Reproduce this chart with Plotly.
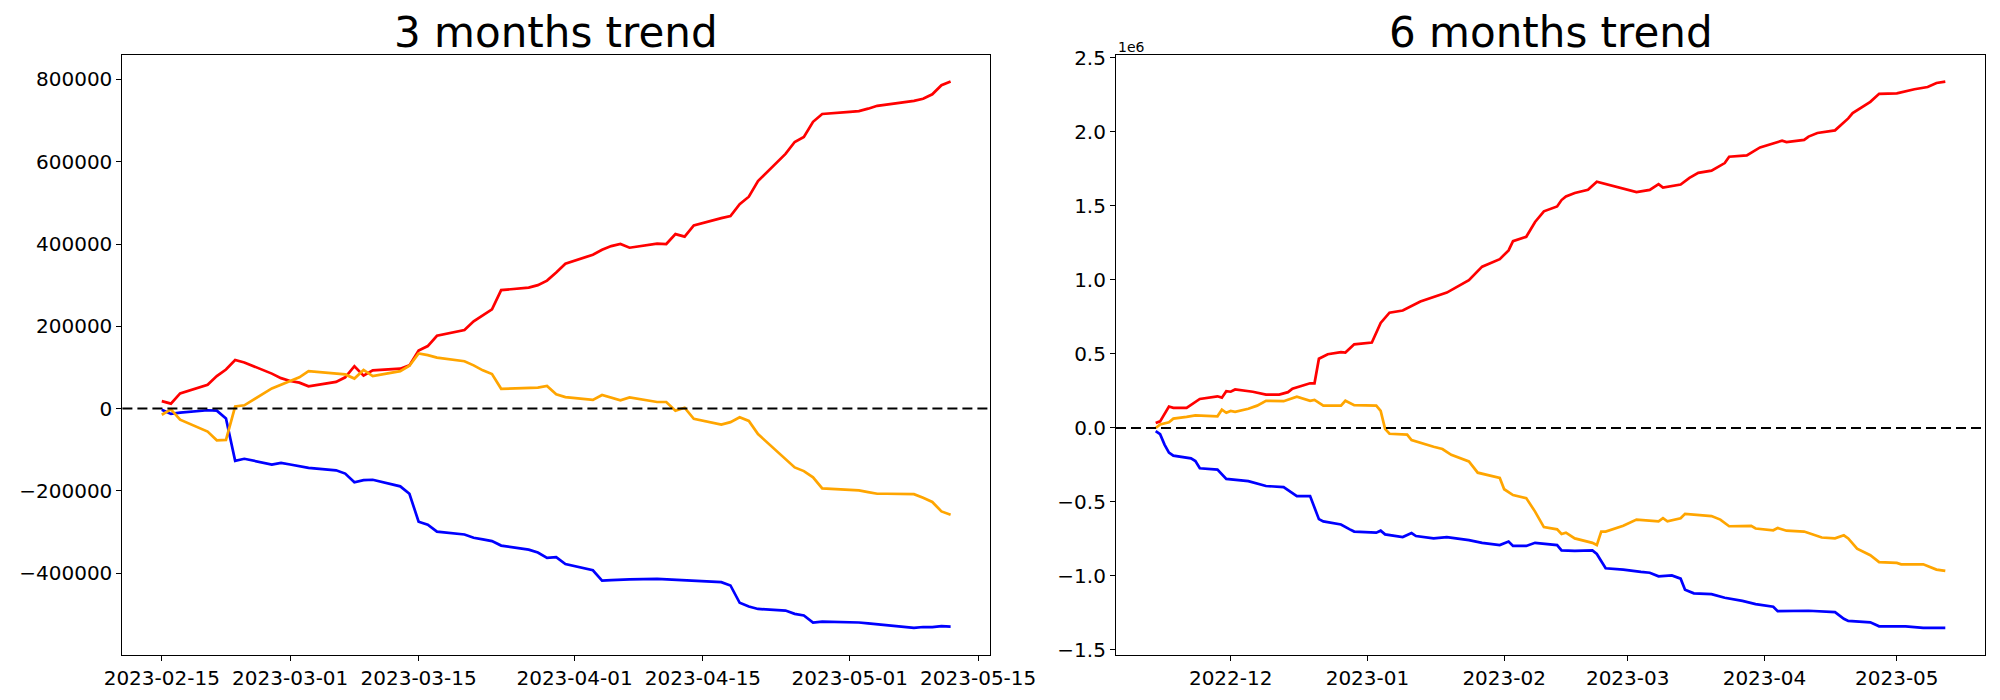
import pandas as pd
import plotly.graph_objects as go

# ---------------- 3 months data (business days) ----------------
dates_3m = pd.bdate_range("2023-02-15", "2023-05-12")

red_3m = [18000, 12000, 37000,
          58000, 79000, 95000, 118000, 112000,
          85000, 74000, 67000, 63000, 54000,
          65000, 76000, 103000, 80000, 93000,
          97000, 105000, 141000, 152000, 177000,
          191000, 212000, 227000, 241000, 288000,
          294000, 300000, 311000, 331000, 352000,
          374000, 386000, 395000, 400000, 391000,
          401000, 400000, 424000, 418000, 445000,
          463000, 468000, 497000, 515000, 553000,
          619000, 648000, 660000, 697000, 716000,
          721000, 723000, 729000, 736000, 739000,
          748000, 753000, 764000, 786000, 795000]

blue_3m = [-3000, -13000, -10000,
           -4000, -5000, -24000, -127000, -122000,
           -136000, -132000, -136000, -140000, -144000,
           -150000, -158000, -179000, -174000, -173000,
           -189000, -207000, -275000, -282000, -299000,
           -306000, -314000, -318000, -322000, -333000,
           -343000, -350000, -363000, -361000, -378000,
           -393000, -418000, -417000, -416000, -415000,
           -414000, -415000, -417000, -418000, -419000,
           -422000, -430000, -472000, -481000, -487000,
           -491000, -499000, -503000, -520000, -518000,
           -519000, -520000, -522000, -524000, -526000,
           -533000, -531000, -531000, -529000, -530000]

orange_3m = [-15000, -2000, -27000,
             -56000, -77000, -76000, 5000, 8000,
             49000, 58000, 68000, 76000, 91000,
             84000, 83000, 73000, 94000, 79000,
             91000, 104000, 134000, 130000, 124000,
             115000, 105000, 93000, 84000, 48000,
             49000, 51000, 55000, 35000, 28000,
             21000, 33000, 26000, 20000, 27000,
             16000, 16000, -5000, 2000, -25000,
             -39000, -33000, -21000, -30000, -62000,
             -123000, -143000, -152000, -167000, -194000,
             -198000, -199000, -203000, -207000, -207000,
             -208000, -217000, -227000, -250000, -258000]

# ---------------- 6 months data (values in units of 1e6) ----------------
red_6m_dates = ["2022-11-14", "2022-11-15", "2022-11-17", "2022-11-18", "2022-11-21", "2022-11-22",
                "2022-11-24", "2022-11-28", "2022-11-29", "2022-11-30", "2022-12-01", "2022-12-02",
                "2022-12-06", "2022-12-09", "2022-12-12", "2022-12-14", "2022-12-15", "2022-12-19",
                "2022-12-20", "2022-12-21", "2022-12-23", "2022-12-26", "2022-12-27", "2022-12-29",
                "2023-01-02", "2023-01-04", "2023-01-06", "2023-01-09", "2023-01-10", "2023-01-13",
                "2023-01-19", "2023-01-24", "2023-01-27", "2023-01-31", "2023-02-02", "2023-02-03",
                "2023-02-06", "2023-02-08", "2023-02-10", "2023-02-13", "2023-02-14", "2023-02-15",
                "2023-02-17", "2023-02-20", "2023-02-22", "2023-02-27", "2023-03-03", "2023-03-06",
                "2023-03-08", "2023-03-09", "2023-03-13", "2023-03-15", "2023-03-17", "2023-03-20",
                "2023-03-23", "2023-03-24", "2023-03-28", "2023-03-31", "2023-04-05", "2023-04-06",
                "2023-04-10", "2023-04-11", "2023-04-13", "2023-04-17", "2023-04-20", "2023-04-21",
                "2023-04-25", "2023-04-27", "2023-05-01", "2023-05-05", "2023-05-08", "2023-05-10",
                "2023-05-12"]
red_6m = [0.033, 0.045, 0.145, 0.136, 0.136, 0.154,
          0.196, 0.214, 0.205, 0.248, 0.245, 0.260,
          0.245, 0.226, 0.226, 0.242, 0.266, 0.302,
          0.302, 0.468, 0.498, 0.513, 0.510, 0.565,
          0.577, 0.710, 0.779, 0.794, 0.810, 0.855,
          0.915, 0.999, 1.090, 1.141, 1.200, 1.262,
          1.292, 1.392, 1.464, 1.497, 1.540, 1.564,
          1.588, 1.609, 1.664, 1.624, 1.594, 1.609,
          1.648, 1.624, 1.645, 1.690, 1.724, 1.739,
          1.790, 1.833, 1.842, 1.896, 1.941, 1.932,
          1.947, 1.969, 1.993, 2.011, 2.092, 2.128,
          2.204, 2.258, 2.261, 2.289, 2.304, 2.331,
          2.340]

blue_6m_dates = ["2022-11-14", "2022-11-15", "2022-11-16", "2022-11-17", "2022-11-18", "2022-11-22",
                 "2022-11-23", "2022-11-24", "2022-11-28", "2022-11-30", "2022-12-05", "2022-12-07",
                 "2022-12-09", "2022-12-13", "2022-12-14", "2022-12-16", "2022-12-19", "2022-12-21",
                 "2022-12-22", "2022-12-26", "2022-12-28", "2022-12-29", "2023-01-03", "2023-01-04",
                 "2023-01-05", "2023-01-09", "2023-01-11", "2023-01-12", "2023-01-16", "2023-01-19",
                 "2023-01-24", "2023-01-27", "2023-01-31", "2023-02-02", "2023-02-03", "2023-02-06",
                 "2023-02-08", "2023-02-13", "2023-02-14", "2023-02-17", "2023-02-21", "2023-02-22",
                 "2023-02-24", "2023-02-28", "2023-03-04", "2023-03-06", "2023-03-08", "2023-03-11",
                 "2023-03-13", "2023-03-14", "2023-03-16", "2023-03-20", "2023-03-23", "2023-03-27",
                 "2023-03-30", "2023-04-03", "2023-04-04", "2023-04-11", "2023-04-17", "2023-04-19",
                 "2023-04-20", "2023-04-25", "2023-04-27", "2023-05-03", "2023-05-07", "2023-05-12"]
blue_6m = [-0.021, -0.042, -0.112, -0.166, -0.187, -0.205,
           -0.223, -0.272, -0.281, -0.344, -0.359, -0.374,
           -0.392, -0.400, -0.420, -0.460, -0.460, -0.616,
           -0.631, -0.652, -0.685, -0.700, -0.707, -0.694,
           -0.719, -0.737, -0.710, -0.730, -0.746, -0.737,
           -0.758, -0.776, -0.791, -0.767, -0.797, -0.797,
           -0.776, -0.791, -0.827, -0.830, -0.827, -0.851,
           -0.948, -0.957, -0.972, -0.978, -1.002, -0.996,
           -1.018, -1.093, -1.117, -1.123, -1.147, -1.168,
           -1.190, -1.208, -1.238, -1.235, -1.244, -1.289,
           -1.304, -1.313, -1.340, -1.340, -1.350, -1.350]

orange_6m_dates = ["2022-11-14", "2022-11-15", "2022-11-17", "2022-11-18", "2022-11-21", "2022-11-23",
                   "2022-11-28", "2022-11-29", "2022-11-30", "2022-12-01", "2022-12-02", "2022-12-05",
                   "2022-12-07", "2022-12-09", "2022-12-13", "2022-12-16", "2022-12-19", "2022-12-20",
                   "2022-12-22", "2022-12-26", "2022-12-27", "2022-12-29", "2023-01-03", "2023-01-04",
                   "2023-01-05", "2023-01-06", "2023-01-10", "2023-01-11", "2023-01-16", "2023-01-18",
                   "2023-01-20", "2023-01-24", "2023-01-26", "2023-01-31", "2023-02-01", "2023-02-03",
                   "2023-02-06", "2023-02-08", "2023-02-10", "2023-02-13", "2023-02-14", "2023-02-15",
                   "2023-02-17", "2023-02-21", "2023-02-22", "2023-02-23", "2023-02-24", "2023-02-28",
                   "2023-03-03", "2023-03-08", "2023-03-09", "2023-03-10", "2023-03-13", "2023-03-14",
                   "2023-03-20", "2023-03-22", "2023-03-24", "2023-03-29", "2023-03-30", "2023-04-03",
                   "2023-04-04", "2023-04-06", "2023-04-10", "2023-04-12", "2023-04-14", "2023-04-17",
                   "2023-04-19", "2023-04-20", "2023-04-22", "2023-04-25", "2023-04-27", "2023-05-01",
                   "2023-05-02", "2023-05-07", "2023-05-10", "2023-05-12"]
orange_6m = [0.000, 0.024, 0.039, 0.063, 0.075, 0.085,
             0.079, 0.124, 0.103, 0.115, 0.109, 0.130,
             0.151, 0.184, 0.181, 0.211, 0.184, 0.190,
             0.151, 0.151, 0.184, 0.154, 0.151, 0.115,
             -0.006, -0.039, -0.045, -0.082, -0.127, -0.142,
             -0.181, -0.226, -0.302, -0.338, -0.414, -0.453,
             -0.474, -0.565, -0.670, -0.685, -0.716, -0.707,
             -0.746, -0.776, -0.791, -0.700, -0.700, -0.661,
             -0.619, -0.631, -0.610, -0.631, -0.610, -0.580,
             -0.595, -0.619, -0.664, -0.661, -0.679, -0.691,
             -0.676, -0.694, -0.700, -0.722, -0.740, -0.746,
             -0.725, -0.746, -0.815, -0.860, -0.906, -0.912,
             -0.921, -0.921, -0.957, -0.966]

tick_3m = ["2023-02-15", "2023-03-01", "2023-03-15", "2023-04-01", "2023-04-15", "2023-05-01", "2023-05-15"]
tick_6m = ["2022-12-01", "2023-01-01", "2023-02-01", "2023-03-01", "2023-04-01", "2023-05-01"]
ytick_3m = [-400000, -200000, 0, 200000, 400000, 600000, 800000]
ytick_6m = [-1.5, -1.0, -0.5, 0.0, 0.5, 1.0, 1.5, 2.0, 2.5]

RED, BLUE, ORANGE = "#ff0000", "#0000ff", "#ffa500"
LW = 2.7
FONT = "DejaVu Sans"

fig = go.Figure()

# left panel
fig.add_trace(go.Scatter(x=dates_3m, y=red_3m, mode="lines", line=dict(color=RED, width=LW), xaxis="x", yaxis="y"))
fig.add_trace(go.Scatter(x=dates_3m, y=blue_3m, mode="lines", line=dict(color=BLUE, width=LW), xaxis="x", yaxis="y"))
fig.add_trace(go.Scatter(x=dates_3m, y=orange_3m, mode="lines", line=dict(color=ORANGE, width=LW), xaxis="x", yaxis="y"))
# right panel
fig.add_trace(go.Scatter(x=red_6m_dates, y=red_6m, mode="lines", line=dict(color=RED, width=LW), xaxis="x2", yaxis="y2"))
fig.add_trace(go.Scatter(x=blue_6m_dates, y=blue_6m, mode="lines", line=dict(color=BLUE, width=LW), xaxis="x2", yaxis="y2"))
fig.add_trace(go.Scatter(x=orange_6m_dates, y=orange_6m, mode="lines", line=dict(color=ORANGE, width=LW), xaxis="x2", yaxis="y2"))

axis_common = dict(showgrid=False, zeroline=False, showline=True, linecolor="black", linewidth=1.1,
                   mirror=True, ticks="outside", ticklen=5, tickwidth=1.1, tickcolor="black",
                   tickfont=dict(family=FONT, size=20, color="black"), automargin=False)

# domains compensate for the page's 8px body offset
L_DOM = [0.0572, 0.491]
R_DOM = [0.554, 0.9885]
Y_DOM = [0.0757, 0.9323]

fig.update_layout(
    width=2000, height=700,
    margin=dict(l=0, r=0, t=0, b=0),
    paper_bgcolor="white", plot_bgcolor="white",
    showlegend=False,
    xaxis=dict(domain=L_DOM, type="date", range=["2023-02-10 17:00", "2023-05-16 07:00"],
               tickvals=tick_3m, tickformat="%Y-%m-%d", anchor="y", **axis_common),
    yaxis=dict(domain=Y_DOM, range=[-599000, 858500], tickvals=ytick_3m, tickformat="d",
               anchor="x", **axis_common),
    xaxis2=dict(domain=R_DOM, type="date", range=["2022-11-05", "2023-05-21"],
                tickvals=tick_6m, tickformat="%Y-%m", anchor="y2", **axis_common),
    yaxis2=dict(domain=Y_DOM, range=[-1.534, 2.5176], tickvals=ytick_6m, tickformat=".1f",
                anchor="x2", **axis_common),
)

# zero reference lines
for xr, yr in (("x domain", "y"), ("x2 domain", "y2")):
    fig.add_shape(type="line", xref=xr, yref=yr, x0=0, x1=1, y0=0, y1=0,
                  line=dict(color="black", width=2, dash="10px,5px"))

# titles
for txt, dom in (("3 months trend", L_DOM), ("6 months trend", R_DOM)):
    fig.add_annotation(text=txt, xref="paper", yref="paper", x=(dom[0] + dom[1]) / 2, y=Y_DOM[1],
                       xanchor="center", yanchor="bottom", showarrow=False, yshift=-4,
                       font=dict(family=FONT, size=42, color="black"))

# offset text
fig.add_annotation(text="1e6", xref="paper", yref="paper", x=R_DOM[0], y=Y_DOM[1],
                   xanchor="left", yanchor="bottom", showarrow=False, yshift=-2,
                   font=dict(family=FONT, size=14, color="black"))

fig.write_html("out.html")
